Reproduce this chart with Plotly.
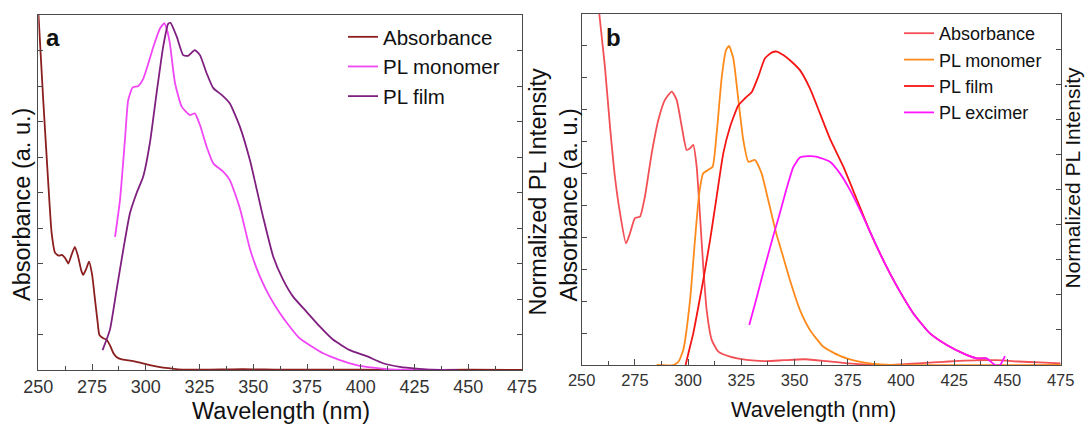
import plotly.graph_objects as go

# ---------------- Panel a data ----------------
a_abs_nm = [250, 252.3, 254.6, 256.2, 257.8, 259.5, 260.9, 262.5, 264, 265.5, 267, 268.5, 270, 270.9,
            272.3, 273.6, 275, 276.4, 277.5, 278.4, 280, 281.8, 283.3, 284.9, 286.5, 288.8, 292, 295.7,
            301.9, 306, 310.5, 315, 320, 330, 340, 350, 360, 380, 400, 425, 450, 475]
a_abs = [1.01, 0.76, 0.53, 0.386, 0.33, 0.322, 0.324, 0.315, 0.30, 0.325, 0.347, 0.32, 0.28, 0.268,
         0.285, 0.305, 0.27, 0.197, 0.14, 0.099, 0.09, 0.085, 0.07, 0.048, 0.036, 0.03, 0.027, 0.023,
         0.014, 0.009, 0.005, 0.002, 0.001, 0.001, 0.002, 0.002, 0.001, 0.001, 0.001, 0.0, 0.001, 0.0]

a_mono_nm = [285.7, 288.0, 290.3, 291.8, 293.9, 296.5, 298.8, 301.0, 303.5, 306.6, 308.6, 310.0, 311.2,
             313.6, 316.7, 320.5, 322.8, 325.2, 328.3, 331.4, 336.0, 339.1, 343.8, 348.5, 353.1, 357.7,
             362.4, 367.0, 371.6, 376.3, 382.5, 390.3, 398.0, 405.7, 413.5, 425, 440]
a_mono = [0.375, 0.479, 0.648, 0.76, 0.796, 0.80, 0.82, 0.86, 0.91, 0.962, 0.977, 0.955, 0.92,
          0.808, 0.742, 0.718, 0.723, 0.69, 0.629, 0.582, 0.559, 0.535, 0.455, 0.34, 0.263, 0.206,
          0.16, 0.122, 0.089, 0.07, 0.047, 0.028, 0.014, 0.0065, 0.002, 0.001, 0.0]

a_film_nm = [279.9, 283.3, 286.4, 289.5, 292.6, 295.7, 298.8, 301.9, 305.0, 308.1, 310.4, 311.5, 314.4,
             317.4, 319.7, 322.8, 325.2, 328.3, 331.4, 335.3, 339.1, 343.8, 348.4, 354.6, 359.3, 363.9,
             368.6, 374.8, 381.0, 387.2, 394.9, 402.7, 410.4, 418.2, 425.9, 436.7, 445]
a_film = [0.056, 0.113, 0.225, 0.338, 0.441, 0.498, 0.545, 0.639, 0.779, 0.911, 0.975, 0.978, 0.939,
          0.887, 0.885, 0.901, 0.887, 0.836, 0.794, 0.775, 0.751, 0.685, 0.592, 0.43, 0.319, 0.254,
          0.206, 0.164, 0.122, 0.085, 0.056, 0.039, 0.019, 0.009, 0.004, 0.0, 0.0]

# ---------------- Panel b data ----------------
b_abs_nm = [257, 258.3, 260.9, 263.3, 265.6, 268.0, 270.8, 272.7, 275.0, 277.4, 279.7, 282.9, 286.0,
            289.1, 292.3, 294.6, 297.0, 299.3, 300.9, 302.4, 304.0, 305.6, 307.1, 308.7, 311.1, 314.2,
            319.7, 327.5, 336.9, 345, 355, 365, 375, 385, 392, 400, 410, 420, 430, 445, 455, 465, 475]
b_abs = [12.5, 11.0, 9.35, 7.47, 5.90, 4.76, 3.81, 4.13, 4.60, 4.65, 5.28, 6.64, 7.68,
         8.31, 8.57, 8.31, 7.47, 6.74, 6.79, 6.90, 6.22, 4.65, 3.08, 1.72, 0.78, 0.42,
         0.26, 0.16, 0.12, 0.15, 0.18, 0.12, 0.05, 0.01, 0.0, 0.02, 0.06, 0.10, 0.14, 0.15, 0.11, 0.08, 0.05]

b_mono_nm = [285.2, 293.0, 295.5, 297.7, 300.9, 303.2, 305.2, 307.1, 309.5, 311.5, 313.4, 315.8, 317.8,
             319.2, 321.2, 323.6, 325.9, 328.3, 331.4, 334.5, 337.6, 341.6, 343.1, 347.8, 352.5, 357.2,
             363.5, 371.3, 379.2, 387.0, 395, 475]
b_mono = [0.0, 0.0, 0.01, 0.043, 0.185, 0.356, 0.489, 0.546, 0.556, 0.565, 0.66, 0.821, 0.897,
          0.909, 0.874, 0.755, 0.641, 0.579, 0.584, 0.546, 0.47, 0.37, 0.34, 0.242, 0.157, 0.10,
          0.052, 0.026, 0.011, 0.003, 0.0, 0.0]

b_film_nm = [298.8, 300.1, 302.4, 304.8, 307.1, 310.3, 313.4, 316.5, 319.7, 323.6, 326.7, 329.9, 332.9,
             336.1, 339.2, 341.6, 344.7, 348.6, 352.5, 357.2, 361.9, 366.6, 372.9, 379.0, 385.4, 390.1,
             394.8, 399.5, 405.8, 413.6, 421.5, 429.2, 435.5, 440.2]
b_film = [0.0, 0.033, 0.09, 0.166, 0.242, 0.356, 0.48, 0.603, 0.679, 0.74, 0.76, 0.778, 0.821,
          0.874, 0.89, 0.893, 0.883, 0.864, 0.84, 0.788, 0.717, 0.645, 0.565, 0.475, 0.38, 0.318,
          0.261, 0.209, 0.147, 0.09, 0.057, 0.033, 0.019, 0.019]

b_exc_nm = [328.7, 331.9, 335.2, 338.4, 340.8, 343.1, 346.3, 349.4, 352.5, 356.3, 360.1, 366.6, 371.3,
            376.0, 380.7, 385.4, 390.1, 394.8, 399.5, 405.8, 413.6, 421.5, 429.2, 435.5, 440.2, 444.1,
            446.5, 448.8]
b_exc = [0.114, 0.185, 0.262, 0.333, 0.385, 0.433, 0.504, 0.564, 0.591, 0.595, 0.594, 0.579, 0.546,
         0.499, 0.442, 0.38, 0.318, 0.261, 0.209, 0.147, 0.09, 0.057, 0.033, 0.019, 0.019, 0.0,
         0.0, 0.025]

x_ticks = [250, 275, 300, 325, 350, 375, 400, 425, 450, 475]
x_tick_text = [str(v) for v in x_ticks]

FONT = "Arial, Liberation Sans, sans-serif"
AX = "#4a4a4a"

fig = go.Figure()

def add(x, y, name, color, xa, ya, legend):
    fig.add_trace(go.Scatter(x=x, y=y, name=name, mode="lines", xaxis=xa, yaxis=ya,
                             line=dict(color=color, width=1.8, shape="spline", smoothing=0.5),
                             legend=legend))

add(a_abs_nm, a_abs, "Absorbance", "#8B1E1E", "x", "y", "legend")
add(a_mono_nm, a_mono, "PL monomer", "#F046F5", "x", "y2", "legend")
add(a_film_nm, a_film, "PL film", "#7F1F7F", "x", "y2", "legend")

add(b_abs_nm, b_abs, "Absorbance", "#F25055", "x2", "y3", "legend2")
add(b_mono_nm, b_mono, "PL monomer", "#FF8A1C", "x2", "y4", "legend2")
add(b_film_nm, b_film, "PL film", "#F51515", "x2", "y4", "legend2")
add(b_exc_nm, b_exc, "PL excimer", "#FF14FF", "x2", "y4", "legend2")

W, H = 1085, 426

def px(x):
    return x / W

def py(y):
    return 1 - y / H

def xax(dom, anchor, fs):
    return dict(domain=dom, anchor=anchor, range=[250, 475], tickmode="array", tickvals=x_ticks,
                ticktext=x_tick_text, ticks="inside", ticklen=6, tickwidth=1.2, tickcolor=AX,
                minor=dict(ticks="inside", ticklen=3.5, tickwidth=1.2, tickcolor=AX, dtick=12.5, tick0=250),
                showline=True, linecolor=AX, linewidth=1.3, mirror=True, showgrid=False, zeroline=False,
                tickfont=dict(family=FONT, size=fs, color="#333333"), automargin=False)

def yax(dom, anchor, rng, dt, side="left", overlay=None):
    d = dict(domain=dom, anchor=anchor, range=rng, dtick=dt, tick0=0, side=side, ticks="inside",
             ticklen=5, tickwidth=1.2, tickcolor=AX, showticklabels=False, showline=True,
             linecolor=AX, linewidth=1.3, showgrid=False, zeroline=False, automargin=False)
    if overlay:
        d["overlaying"] = overlay
    return d

dom_ax = [px(38.3), px(522)]
dom_ay = [py(370), py(15)]
dom_bx = [px(581.7), px(1060.7)]
dom_by = [py(365), py(14)]

fig.update_layout(
    width=W, height=H, margin=dict(l=0, r=0, t=0, b=0),
    paper_bgcolor="white", plot_bgcolor="white",
    xaxis=xax(dom_ax, "y", 18),
    yaxis=yax(dom_ay, "x", [0, 1], 0.1),
    yaxis2=yax(dom_ay, "x", [0, 1], 0.1, side="right", overlay="y"),
    xaxis2=xax(dom_bx, "y3", 16.5),
    yaxis3=yax(dom_by, "x2", [0, 11], 1),
    yaxis4=yax(dom_by, "x2", [0, 1], 0.1, side="right", overlay="y3"),
    legend=dict(x=px(343), y=py(17), xanchor="left", yanchor="top", bgcolor="rgba(0,0,0,0)",
                font=dict(family=FONT, size=20.5, color="#111111"), tracegroupgap=0),
    legend2=dict(x=px(899), y=py(15), xanchor="left", yanchor="top", bgcolor="rgba(0,0,0,0)",
                 font=dict(family=FONT, size=18, color="#111111"), tracegroupgap=0),
    showlegend=True,
)

ann = []
def title(text, x, y, size, angle=0, bold=False):
    ann.append(dict(text=("<b>%s</b>" % text) if bold else text, x=px(x), y=py(y), xref="paper",
                    yref="paper", showarrow=False, textangle=angle, xanchor="center", yanchor="middle",
                    font=dict(family=FONT, size=size, color="#111111")))

title("Wavelength (nm)", 281, 411, 23.5)
title("Wavelength (nm)", 813, 409, 21.8)
title("Absorbance (a. u.)", 22, 205, 23.5, -90)
title("Normalized PL Intensity", 537, 191.5, 23.5, -90)
title("Absorbance (a. u.)", 568, 205.5, 23.5, -90)
title("Normalized PL Intensity", 1071.5, 178, 21, -90)
title("a", 52.5, 38, 24, bold=True)
title("b", 613.5, 37, 24, bold=True)
fig.update_layout(annotations=ann)

fig.write_html("out.html")
